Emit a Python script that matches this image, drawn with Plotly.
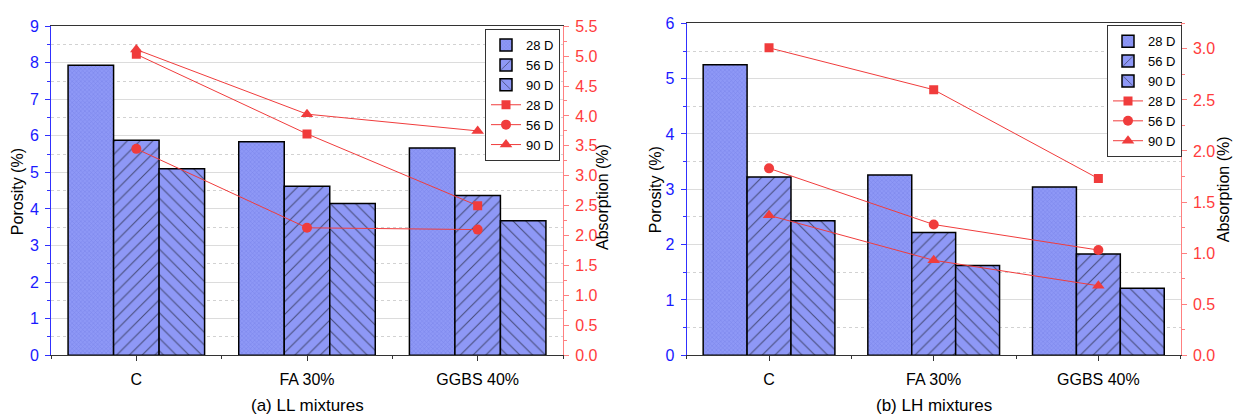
import plotly.graph_objects as go

categories = ["C", "FA 30%", "GGBS 40%"]
ages = ["28 D", "56 D", "90 D"]

# (a) LL mixtures
ll_porosity = {
    "28 D": [7.93, 5.84, 5.67],
    "56 D": [5.88, 4.62, 4.37],
    "90 D": [5.10, 4.15, 3.68],
}
ll_absorption = {
    "28 D": [5.03, 3.70, 2.50],
    "56 D": [3.45, 2.13, 2.10],
    "90 D": [5.11, 4.03, 3.75],
}

# (b) LH mixtures
lh_porosity = {
    "28 D": [5.25, 3.26, 3.04],
    "56 D": [3.22, 2.22, 1.83],
    "90 D": [2.43, 1.62, 1.21],
}
lh_absorption = {
    "28 D": [3.01, 2.60, 1.73],
    "56 D": [1.83, 1.28, 1.03],
    "90 D": [1.37, 0.93, 0.68],
}

subtitles = ["(a) LL mixtures", "(b) LH mixtures"]

FONT = "Liberation Sans, Arial, sans-serif"
BAR = "#8e98f6"
RED = "#f03c3c"
BLUE = "#1a1aff"
patterns = {
    "28 D": dict(shape="x", size=3, solidity=0.3, fgcolor="#6670dc", bgcolor=BAR),
    "56 D": dict(shape="/", size=9, solidity=0.12, fgcolor="black", bgcolor=BAR),
    "90 D": dict(shape="\\", size=9, solidity=0.12, fgcolor="black", bgcolor=BAR),
}
symbols = {"28 D": "square", "56 D": "circle", "90 D": "triangle-up"}
msize = {"28 D": 9, "56 D": 10, "90 D": 11}

xpos = list(range(len(categories)))

fig = go.Figure()

panels = [
    (ll_porosity, ll_absorption, "x", "y", "y2", "legend"),
    (lh_porosity, lh_absorption, "x2", "y3", "y4", "legend2"),
]
for por, absn, xa, ya, ya2, leg in panels:
    for a in ages:
        fig.add_trace(go.Bar(
            x=xpos, y=por[a], name=a, xaxis=xa, yaxis=ya, legend=leg,
            marker=dict(color=BAR, line=dict(color="black", width=1.5), pattern=patterns[a]),
        ))
    for a in ages:
        fig.add_trace(go.Scatter(
            x=xpos, y=absn[a], name=a, xaxis=xa, yaxis=ya2, legend=leg,
            mode="lines+markers", line=dict(color=RED, width=1),
            marker=dict(symbol=symbols[a], size=msize[a], color=RED),
        ))

W, H = 1235, 416
def px(x):
    return x / W
def py(y):
    return 1 - y / H

xcommon = dict(
    range=[-0.5, 2.5], tickvals=xpos, ticktext=categories, ticks="outside", ticklen=5,
    tickcolor="#333", showline=True, linecolor="#333", linewidth=1, mirror=True,
    showgrid=False, zeroline=False, tickfont=dict(size=16, color="black"),
    ticklabelstandoff=5,
    minor=dict(tick0=0.5, dtick=1, ticks="outside", ticklen=3, tickcolor="#333", showgrid=False),
)
def ycommon(color, linecolor, rng, dtick, minor_dtick, grid):
    d = dict(
        range=rng, dtick=dtick, ticks="outside", ticklen=5, tickcolor=linecolor,
        showline=True, linecolor=linecolor, linewidth=1, zeroline=False,
        tickfont=dict(size=16, color=color), ticklabelstandoff=3,
        minor=dict(dtick=minor_dtick, ticks="outside", ticklen=3, tickcolor=linecolor,
                   showgrid=grid, gridcolor="#d2d2d2", griddash="dot", gridwidth=1),
        showgrid=grid, gridcolor="#dcdcdc", gridwidth=1,
    )
    return d

fig.update_layout(
    width=W, height=H, margin=dict(l=0, r=0, t=0, b=0),
    paper_bgcolor="white", plot_bgcolor="white",
    font=dict(family=FONT, size=14, color="black"),
    barmode="group", bargap=0.2, bargroupgap=0,
    showlegend=True,
    xaxis=dict(domain=[px(51), px(563)], anchor="y", **xcommon),
    yaxis=dict(domain=[py(362), py(19)], anchor="x",
               **ycommon(BLUE, "#3030ff", [0, 9], 1, 0.5, True)),
    yaxis2=dict(overlaying="y", side="right", anchor="x", tickformat=".1f",
                **ycommon("#ff3c3c", "#ff8080", [0, 5.5], 0.5, 0.25, False)),
    xaxis2=dict(domain=[px(686.7), px(1180.7)], anchor="y3", **xcommon),
    yaxis3=dict(domain=[py(362), py(16)], anchor="x2",
                **ycommon(BLUE, "#3030ff", [0, 6], 1, 0.5, True)),
    yaxis4=dict(overlaying="y3", side="right", anchor="x2", tickformat=".1f",
                **ycommon("#ff3c3c", "#ff8080", [0, 3.25], 0.5, 0.25, False)),
    legend=dict(x=px(560), y=py(22), xanchor="right", yanchor="top",
                bordercolor="#333", borderwidth=1, bgcolor="white",
                font=dict(size=13), itemwidth=30, tracegroupgap=0),
    legend2=dict(x=px(1182), y=py(18), xanchor="right", yanchor="top",
                 bordercolor="#333", borderwidth=1, bgcolor="white",
                 font=dict(size=13), itemwidth=30, tracegroupgap=0),
)

ann = [
    (subtitles[0], px(307), py(414), 0),
    (subtitles[1], px(934), py(414), 0),
    ("Porosity (%)", px(17), py(192), -90),
    ("Absorption (%)", px(603), py(197), -90),
    ("Porosity (%)", px(655), py(190), -90),
    ("Absorption (%)", px(1223), py(189), -90),
]
for i, (t, x, y, ang) in enumerate(ann):
    fig.add_annotation(text=t, x=x, y=y, xref="paper", yref="paper", showarrow=False,
                       textangle=ang, xanchor="center", yanchor="middle",
                       font=dict(size=17 if ang == 0 else 16, color="black"))

fig.write_html("out.html")
